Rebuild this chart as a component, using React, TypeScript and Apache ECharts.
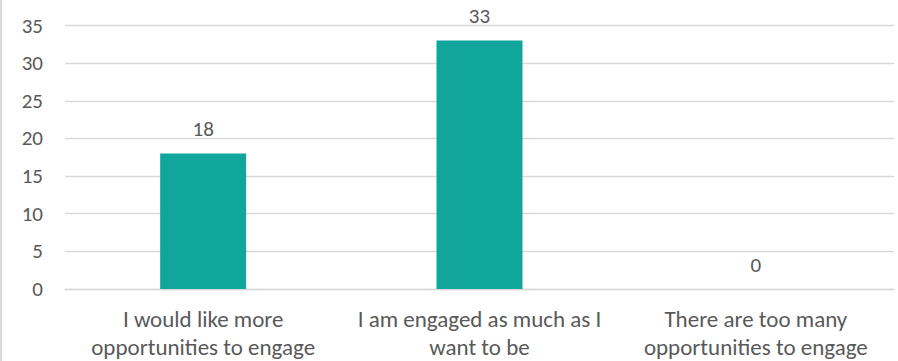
import React, { useEffect, useRef } from "react";
import * as echarts from "echarts";

const categories = [
  "I would like more\nopportunities to engage",
  "I am engaged as much as I\nwant to be",
  "There are too many\nopportunities to engage",
];
const values = [18, 33, 0];
const yMin = 0;
const yMax = 35;
const yInterval = 5;

const FONT = "Carlito, Calibri, Lato, sans-serif";
const TEXT = "#595959";
const GRID = "#d9d9d9";
const BAR = "#11A69B";

export default function App() {
  const ref = useRef<HTMLDivElement>(null);
  useEffect(() => {
    if (!ref.current) return;
    const chart = echarts.init(ref.current, undefined, { renderer: "svg" });
    chart.setOption({
      animation: false,
      backgroundColor: "#ffffff",
      grid: {
        left: 65,
        right: 4,
        top: 25.5,
        bottom: 72,
        containLabel: false,
        outerBoundsMode: "none",
      },
      graphic: [
        { type: "rect", left: 0, top: 0, shape: { x: 0, y: 0, width: 2, height: 361 }, style: { fill: GRID } },
      ],
      xAxis: {
        type: "category",
        data: categories,
        axisTick: { show: false },
        axisLine: { show: true, lineStyle: { color: GRID, width: 1.3 } },
        axisLabel: {
          color: TEXT,
          fontFamily: FONT,
          fontSize: 23,
          lineHeight: 28,
          margin: 16,
          interval: 0,
        },
      },
      yAxis: {
        type: "value",
        min: yMin,
        max: yMax,
        interval: yInterval,
        axisLine: { show: false },
        axisTick: { show: false },
        splitLine: { lineStyle: { color: GRID, width: 1.3 } },
        axisLabel: { color: TEXT, fontFamily: FONT, fontSize: 21, margin: 22 },
      },
      series: [
        {
          type: "bar",
          data: values,
          barWidth: 86,
          itemStyle: { color: BAR },
          label: {
            show: true,
            position: "top",
            distance: 14,
            color: TEXT,
            fontFamily: FONT,
            fontSize: 21,
          },
        },
      ],
    });
    return () => chart.dispose();
  }, []);
  return (
    <div
      ref={ref}
      style={{ position: "absolute", left: 0, top: 0, width: 898, height: 361 }}
    />
  );
}
